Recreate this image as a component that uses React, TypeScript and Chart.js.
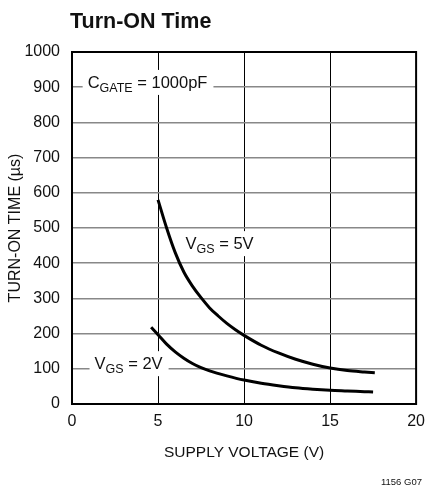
import React, { useEffect, useRef } from "react";
import { Chart, registerables } from "chart.js";

Chart.register(...registerables);

const chartTitle = "Turn-ON Time";
const xAxisTitle = "SUPPLY VOLTAGE (V)";
const yAxisTitle = "TURN-ON TIME (µs)";
const footnote = "1156 G07";

const xTicks = [0, 5, 10, 15, 20];
const yTicks = [0, 100, 200, 300, 400, 500, 600, 700, 800, 900, 1000];

const supply5V = [5, 5.5, 6, 6.5, 7, 7.5, 8, 8.5, 9, 9.5, 10, 11, 12, 13, 14, 15, 16, 17, 17.6];
const turnOn5V = [580, 500, 430, 375, 335, 302, 273, 250, 229, 211, 195, 167, 145, 127, 113, 102, 95, 91, 89];

const supply2V = [4.6, 5, 5.5, 6, 6.5, 7, 7.5, 8, 9, 10, 11, 12, 13, 14, 15, 16, 17, 17.5];
const turnOn2V = [218, 197, 170, 148, 130, 115, 103, 94, 80, 68, 59, 52, 46, 42, 39, 37, 35, 34];

// annotation labels: [main, subscript, rest], anchor (left, vertical centre) in data units
const labelTexts = [
  ["C", "GATE", " = 1000pF"],
  ["V", "GS", " = 5V"],
  ["V", "GS", " = 2V"],
];
const labelX = [0.91, 6.6, 1.31];
const labelY = [915, 457, 116];

const FONT = "'Liberation Sans', Arial, sans-serif";

const overlayPlugin = {
  id: "overlay",
  beforeDatasetsDraw(chart: any) {
    const { ctx, scales } = chart;
    const xs = scales.x;
    const ys = scales.y;
    ctx.save();
    const mainFont = `16.5px ${FONT}`;
    const subFont = `12.5px ${FONT}`;
    labelTexts.forEach((parts, i) => {
      const px = xs.getPixelForValue(labelX[i]);
      const py = ys.getPixelForValue(labelY[i]);
      ctx.font = mainFont;
      const w0 = ctx.measureText(parts[0]).width;
      const w2 = ctx.measureText(parts[2]).width;
      ctx.font = subFont;
      const w1 = ctx.measureText(parts[1]).width;
      const total = w0 + w1 + w2;
      ctx.fillStyle = "#fff";
      ctx.fillRect(px - 5, py - 12, total + 11, 25);
      ctx.fillStyle = "#111";
      ctx.textBaseline = "alphabetic";
      ctx.textAlign = "left";
      const base = py + 6;
      ctx.font = mainFont;
      ctx.fillText(parts[0], px, base);
      ctx.font = subFont;
      ctx.fillText(parts[1], px + w0, base + 4);
      ctx.font = mainFont;
      ctx.fillText(parts[2], px + w0 + w1, base);
    });
    ctx.restore();
  },
  afterDraw(chart: any) {
    const { ctx, chartArea } = chart;
    ctx.save();
    ctx.strokeStyle = "#000";
    ctx.lineWidth = 2;
    ctx.strokeRect(chartArea.left, chartArea.top, chartArea.right - chartArea.left, chartArea.bottom - chartArea.top);

    ctx.fillStyle = "#111";
    ctx.font = `bold 21.5px ${FONT}`;
    ctx.textAlign = "left";
    ctx.textBaseline = "alphabetic";
    ctx.fillText(chartTitle, 70, 28);

    ctx.font = `9.5px ${FONT}`;
    ctx.textAlign = "right";
    ctx.fillText(footnote, 422, 485);
    ctx.restore();
  },
};

export default function App() {
  const ref = useRef<HTMLCanvasElement | null>(null);
  useEffect(() => {
    if (!ref.current) return;
    const chart = new Chart(ref.current, {
      type: "scatter",
      data: {
        datasets: [
          {
            label: "VGS = 5V",
            data: supply5V.map((v, i) => ({ x: v, y: turnOn5V[i] })),
            showLine: true,
            borderColor: "#000",
            borderWidth: 3,
            pointRadius: 0,
            cubicInterpolationMode: "monotone",
          },
          {
            label: "VGS = 2V",
            data: supply2V.map((v, i) => ({ x: v, y: turnOn2V[i] })),
            showLine: true,
            borderColor: "#000",
            borderWidth: 3,
            pointRadius: 0,
            cubicInterpolationMode: "monotone",
          },
        ],
      },
      options: {
        animation: false,
        responsive: false,
        layout: { padding: { top: 52, right: 10, left: 0, bottom: 0 } },
        plugins: {
          legend: { display: false },
          tooltip: { enabled: false },
          title: { display: false },
        },
        scales: {
          x: {
            type: "linear",
            min: 0,
            max: 20,
            afterBuildTicks: (s: any) => {
              s.ticks = xTicks.map((v) => ({ value: v }));
            },
            afterFit: (s: any) => {
              s.height = 85;
            },
            grid: { color: "#000", lineWidth: 1, drawTicks: false },
            border: { color: "#000", width: 2 },
            ticks: { color: "#111", font: { family: FONT, size: 16 }, padding: 8, maxRotation: 0, callback: (v: any) => String(v) },
            title: { display: true, text: xAxisTitle, color: "#111", font: { family: FONT, size: 15.5 }, padding: { top: 4, bottom: 27 } },
          },
          y: {
            type: "linear",
            min: 0,
            max: 1000,
            afterBuildTicks: (s: any) => {
              s.ticks = yTicks.map((v) => ({ value: v }));
            },
            afterFit: (s: any) => {
              s.width = 72;
            },
            grid: { color: "#888", lineWidth: 1.5, drawTicks: false },
            border: { color: "#000", width: 2 },
            ticks: { color: "#111", font: { family: FONT, size: 16 }, padding: 12, callback: (v: any) => String(v) },
            title: { display: true, text: yAxisTitle, color: "#111", font: { family: FONT, size: 16 }, padding: { top: 6, bottom: 6 } },
          },
        },
      },
      plugins: [overlayPlugin],
    } as any);
    return () => chart.destroy();
  }, []);
  return (
    <div style={{ position: "absolute", left: 0, top: 0, width: 433, height: 489, background: "#fff" }}>
      <canvas ref={ref} width={433} height={489} />
    </div>
  );
}
